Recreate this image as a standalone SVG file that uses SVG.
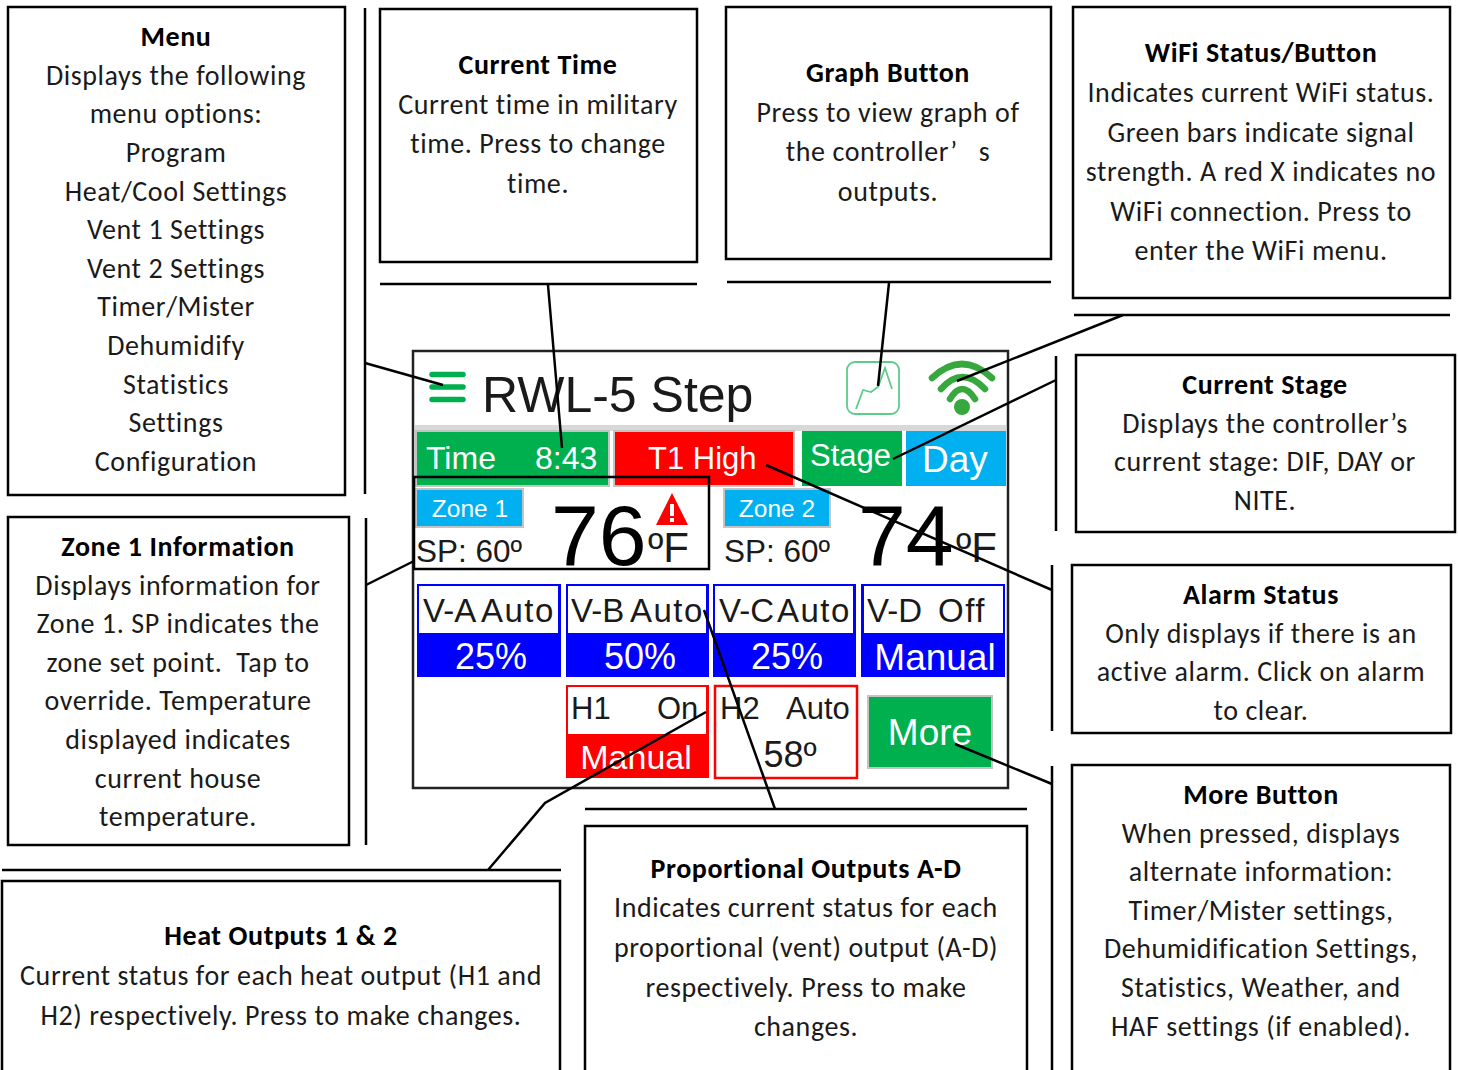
<svg xmlns="http://www.w3.org/2000/svg" width="1458" height="1070" viewBox="0 0 1458 1070">
<style>
.box{fill:#fff;stroke:#000;stroke-width:2.5}
.t{font-family:Carlito,Lato,"Liberation Sans",sans-serif;font-size:28px;letter-spacing:.58px;fill:#1a1a1a;text-anchor:middle}
.b{font-weight:700;fill:#000}
.s{font-family:"Liberation Sans",Arial,sans-serif;fill:#1a1a1a}
.w{fill:#fff}
.c{fill:none;stroke:#000;stroke-width:2.5}
.sh{stroke:#c4c4c4;stroke-width:2}
.g{fill:#00b04f}.u{fill:#00b0f0}.r{fill:#f00}.bl{fill:#00f}
.m{text-anchor:middle}
.v{letter-spacing:1.5px}
</style>
<rect width="1458" height="1070" fill="#fff"/>
<g id="screen">
<rect x="413" y="351" width="595" height="437" fill="#fff" stroke="#222" stroke-width="2.5"/>
<rect x="415" y="425" width="591" height="6" fill="#d8d8d8"/>
<g id="menu-icon" stroke="#00b04f" stroke-width="5.5" stroke-linecap="round"><path d="M432 374.500H463M432 387H463M432 399.500H463"/></g>
<text class="s" x="482" y="412" font-size="50">RWL-5 Step</text>
<g id="graph-icon" fill="none" stroke="#5ccb8c" stroke-width="1.800"><rect x="847" y="362" width="52" height="52" rx="8"/><path d="M856 409L863 390L871 392L878 387L885 368L892 389"/></g>
<g id="wifi-icon" fill="none" stroke="#36a83e" stroke-width="6.500" stroke-linecap="round"><path d="M932 378Q962 350 992 378M941 389Q962 365 985 389M950 399Q962 379 975 399"/><circle cx="962" cy="407" r="8" fill="#36a83e" stroke="none"/></g>
<g id="time-btn"><rect class="g sh" x="416" y="431" width="193" height="55"/><text class="s w" x="426" y="469" font-size="32">Time</text><text class="s w" x="535" y="469" font-size="32">8:43</text></g>
<g id="alarm-btn"><rect class="r sh" x="614" y="431" width="180" height="55"/><text class="s w" x="648" y="469" font-size="31">T1 High</text></g>
<g id="stage-btn"><rect class="g" x="802" y="431" width="100" height="55"/><text class="s w" x="810" y="466" font-size="31">Stage</text></g>
<g id="day-btn"><rect class="u" x="906" y="431" width="100" height="55"/><text class="s w" x="922" y="472" font-size="37">Day</text></g>
<g id="zone1"><rect class="u sh" x="416" y="489" width="107" height="38"/><text class="s w m" x="470" y="517" font-size="24.500">Zone 1</text><text class="s" x="416" y="562" font-size="31.500">SP: 60º</text><text x="551" y="565" font-family="Liberation Sans,Arial,sans-serif" font-size="86" fill="#000">76</text><path d="M672 493L688 525H656Z" fill="#f00"/><rect x="670" y="504" width="4" height="12" fill="#fff"/><rect x="670" y="518" width="4" height="4" fill="#fff"/><text class="s" x="648" y="562" font-size="42" fill="#000">ºF</text></g>
<g id="zone2"><rect class="u sh" x="724" y="489" width="106" height="38"/><text class="s w m" x="777" y="517" font-size="24.500">Zone 2</text><text class="s" x="724" y="562" font-size="31.500">SP: 60º</text><text x="858" y="565" font-family="Liberation Sans,Arial,sans-serif" font-size="86" fill="#000">74</text><text class="s" x="956" y="562" font-size="42" fill="#000">ºF</text></g>
<g id="v-a"><rect x="417" y="584" width="144" height="93" class="bl"/><rect x="419" y="586" width="139" height="47" fill="#fff"/><text class="s" x="423" y="622" font-size="33">V-A</text><text class="s v" x="481" y="622" font-size="33">Auto</text><text class="s w m" x="491" y="669" font-size="36">25%</text></g>
<g id="v-b"><rect x="566" y="584" width="143" height="93" class="bl"/><rect x="568" y="586" width="138" height="47" fill="#fff"/><text class="s" x="571" y="622" font-size="33">V-B</text><text class="s v" x="630" y="622" font-size="33">Auto</text><text class="s w m" x="640" y="669" font-size="36">50%</text></g>
<g id="v-c"><rect x="713" y="584" width="143" height="93" class="bl"/><rect x="715" y="586" width="138" height="47" fill="#fff"/><text class="s" x="719" y="622" font-size="33">V-C</text><text class="s v" x="777" y="622" font-size="33">Auto</text><text class="s w m" x="787" y="669" font-size="36">25%</text></g>
<g id="v-d"><rect x="861" y="584" width="144" height="93" class="bl"/><rect x="864" y="586" width="139" height="47" fill="#fff"/><text class="s" x="867" y="622" font-size="33">V-D</text><text class="s v" x="938" y="622" font-size="33">Off</text><text class="s w m" x="935" y="670" font-size="37">Manual</text></g>
<g id="h1"><rect x="566" y="685" width="143" height="93" class="r"/><rect x="568" y="687" width="138" height="47" fill="#fff"/><text class="s" x="571" y="719" font-size="31">H1</text><text class="s" x="657" y="719" font-size="31">On</text><text class="s w m" x="636" y="769" font-size="34">Manual</text></g>
<g id="h2"><rect x="715" y="686" width="142" height="92" fill="#fff" stroke="#f00" stroke-width="2.500"/><text class="s" x="720" y="719" font-size="31">H2</text><text class="s" x="786" y="719" font-size="31">Auto</text><text class="s m" x="790" y="767" font-size="36">58º</text></g>
<g id="more-btn"><rect class="g sh" x="868" y="696" width="124" height="72"/><text class="s w m" x="930" y="745" font-size="37">More</text></g>
<rect x="414" y="477" width="295" height="92" fill="none" stroke="#000" stroke-width="2.500"/>
</g>
<g id="connectors">
<path class="c" d="M365 8V494M366 518V845M380 284H697M727 282H1051M1074 315H1450M1056 356V531M1052 565V731M1052 766V1070M585 809H1027M2 870H561"/>
<path class="c" d="M365 363L443 385M548 285L562 448M889 283L878 386M1123 315L957 381M1056 380L893 459M1052 590L766 465M704 610L775 809M706 712L545 803L488 870M955 744L1052 784M414 561L366 585"/>
</g>
<g id="menu"><rect class="box" x="8" y="7" width="337" height="488"/><text class="t"><tspan class="b" x="176" y="46">Menu</tspan><tspan x="176" y="85">Displays the following</tspan><tspan x="176" y="123">menu options:</tspan><tspan x="176" y="162">Program</tspan><tspan x="176" y="201">Heat/Cool Settings</tspan><tspan x="176" y="239">Vent 1 Settings</tspan><tspan x="176" y="278">Vent 2 Settings</tspan><tspan x="176" y="316">Timer/Mister</tspan><tspan x="176" y="355">Dehumidify</tspan><tspan x="176" y="394">Statistics</tspan><tspan x="176" y="432">Settings</tspan><tspan x="176" y="471">Configuration</tspan></text></g>
<g id="current-time"><rect class="box" x="380" y="9" width="317" height="253"/><text class="t"><tspan class="b" x="538" y="74">Current Time</tspan><tspan x="538" y="114">Current time in military</tspan><tspan x="538" y="153">time. Press to change</tspan><tspan x="538" y="193">time.</tspan></text></g>
<g id="graph-button"><rect class="box" x="726" y="7" width="325" height="252"/><text class="t" xml:space="preserve"><tspan class="b" x="888" y="82">Graph Button</tspan><tspan x="888" y="122">Press to view graph of</tspan><tspan x="888" y="161">the controller’   s</tspan><tspan x="888" y="201">outputs.</tspan></text></g>
<g id="wifi-status"><rect class="box" x="1073" y="7" width="377" height="291"/><text class="t"><tspan class="b" x="1261" y="62">WiFi Status/Button</tspan><tspan x="1261" y="102">Indicates current WiFi status.</tspan><tspan x="1261" y="142">Green bars indicate signal</tspan><tspan x="1261" y="181">strength. A red X indicates no</tspan><tspan x="1261" y="221">WiFi connection. Press to</tspan><tspan x="1261" y="260">enter the WiFi menu.</tspan></text></g>
<g id="current-stage"><rect class="box" x="1076" y="355" width="379" height="177"/><text class="t"><tspan class="b" x="1265" y="394">Current Stage</tspan><tspan x="1265" y="433">Displays the controller’s</tspan><tspan x="1265" y="471">current stage: DIF, DAY or</tspan><tspan x="1265" y="510">NITE.</tspan></text></g>
<g id="alarm-status"><rect class="box" x="1072" y="565" width="379" height="168"/><text class="t"><tspan class="b" x="1261" y="604">Alarm Status</tspan><tspan x="1261" y="643">Only displays if there is an</tspan><tspan x="1261" y="681">active alarm. Click on alarm</tspan><tspan x="1261" y="720">to clear.</tspan></text></g>
<g id="zone-1-information"><rect class="box" x="8" y="517" width="341" height="328"/><text class="t" xml:space="preserve"><tspan class="b" x="178" y="556">Zone 1 Information</tspan><tspan x="178" y="595">Displays information for</tspan><tspan x="178" y="633">Zone 1. SP indicates the</tspan><tspan x="178" y="672">zone set point.  Tap to</tspan><tspan x="178" y="710">override. Temperature</tspan><tspan x="178" y="749">displayed indicates</tspan><tspan x="178" y="788">current house</tspan><tspan x="178" y="826">temperature.</tspan></text></g>
<g id="heat-outputs"><rect class="box" x="2" y="881" width="558" height="195"/><text class="t"><tspan class="b" x="281" y="945">Heat Outputs 1 &amp; 2</tspan><tspan x="281" y="985">Current status for each heat output (H1 and</tspan><tspan x="281" y="1025">H2) respectively. Press to make changes.</tspan></text></g>
<g id="proportional-outputs"><rect class="box" x="585" y="826" width="442" height="250"/><text class="t"><tspan class="b" x="806" y="878">Proportional Outputs A-D</tspan><tspan x="806" y="917">Indicates current status for each</tspan><tspan x="806" y="957">proportional (vent) output (A-D)</tspan><tspan x="806" y="997">respectively. Press to make</tspan><tspan x="806" y="1036">changes.</tspan></text></g>
<g id="more-button"><rect class="box" x="1072" y="765" width="378" height="311"/><text class="t"><tspan class="b" x="1261" y="804">More Button</tspan><tspan x="1261" y="843">When pressed, displays</tspan><tspan x="1261" y="881">alternate information:</tspan><tspan x="1261" y="920">Timer/Mister settings,</tspan><tspan x="1261" y="958">Dehumidification Settings,</tspan><tspan x="1261" y="997">Statistics, Weather, and</tspan><tspan x="1261" y="1036">HAF settings (if enabled).</tspan></text></g>
</svg>
